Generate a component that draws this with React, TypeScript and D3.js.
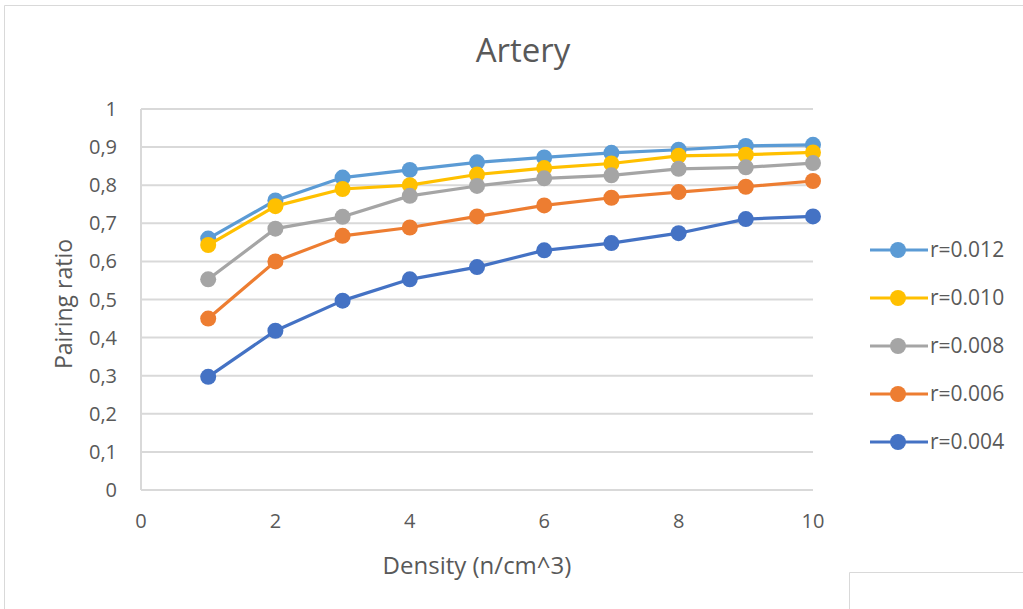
import React from "react";
import * as d3 from "d3";

const densities = [1, 2, 3, 4, 5, 6, 7, 8, 9, 10];
const seriesNames = ["r=0.012", "r=0.010", "r=0.008", "r=0.006", "r=0.004"];
const r012 = [0.66, 0.76, 0.82, 0.84, 0.86, 0.873, 0.885, 0.893, 0.903, 0.906];
const r010 = [0.643, 0.745, 0.79, 0.8, 0.828, 0.845, 0.857, 0.877, 0.88, 0.886];
const r008 = [0.553, 0.686, 0.717, 0.772, 0.798, 0.818, 0.826, 0.843, 0.847, 0.858];
const r006 = [0.45, 0.6, 0.667, 0.689, 0.718, 0.747, 0.767, 0.782, 0.796, 0.811];
const r004 = [0.297, 0.418, 0.497, 0.553, 0.585, 0.629, 0.648, 0.674, 0.711, 0.718];
const seriesValues = [r012, r010, r008, r006, r004];
const colors = ["#5B9BD5", "#FFC000", "#A5A5A5", "#ED7D31", "#4472C4"];
const yTicks = [0, 0.1, 0.2, 0.3, 0.4, 0.5, 0.6, 0.7, 0.8, 0.9, 1];
const xTicks = [0, 2, 4, 6, 8, 10];

const W = 1023;
const H = 609;
const FONT = "'Open Sans', sans-serif";

export default function App() {
  const x = d3.scaleLinear().domain([0, 10]).range([141, 813]);
  const y = d3.scaleLinear().domain([0, 1]).range([490, 109]);
  const line = d3
    .line<number>()
    .x((_, i) => x(densities[i]))
    .y((d) => y(d));
  const fmt = (v: number) => (v === 0 || v === 1 ? String(v) : v.toFixed(1).replace(".", ","));
  const legendY = [250, 298, 346, 394, 442];

  return (
    <svg
      width={W}
      height={H}
      style={{ position: "absolute", left: 0, top: 0, background: "#fff" }}
      fontFamily={FONT}
    >
      <rect x={0} y={0} width={W} height={H} fill="#fff" />
      <path d={`M4.5,${H} L4.5,5.5 L${W},5.5`} fill="none" stroke="#d9d9d9" strokeWidth={1} />
      <path d={`M849.5,${H} L849.5,572.5 L${W},572.5`} fill="none" stroke="#d9d9d9" strokeWidth={1} />

      <text x={523} y={62} textAnchor="middle" fontSize={33} fill="#595959">
        Artery
      </text>

      {yTicks.map((t) => (
        <line
          key={t}
          x1={x(0)}
          x2={x(10)}
          y1={y(t)}
          y2={y(t)}
          stroke="#d9d9d9"
          strokeWidth={2}
        />
      ))}
      <line x1={x(0)} x2={x(0)} y1={y(0)} y2={y(1)} stroke="#d9d9d9" strokeWidth={2} />

      {yTicks.map((t) => (
        <text
          key={t}
          x={117}
          y={y(t) + 7}
          textAnchor="end"
          fontSize={20}
          fill="#595959"
        >
          {fmt(t)}
        </text>
      ))}
      {xTicks.map((t) => (
        <text key={t} x={x(t)} y={528} textAnchor="middle" fontSize={20} fill="#595959">
          {t}
        </text>
      ))}

      <text x={477} y={574} textAnchor="middle" fontSize={24} fill="#595959">
        Density (n/cm^3)
      </text>
      <text
        transform={`translate(72,304) rotate(-90)`}
        textAnchor="middle"
        fontSize={23}
        fill="#595959"
      >
        Pairing ratio
      </text>

      {seriesValues.map((vals, si) => (
        <g key={si}>
          <path d={line(vals) || ""} fill="none" stroke={colors[si]} strokeWidth={3.2} strokeLinejoin="round" />
          {vals.map((v, i) => (
            <circle key={i} cx={x(densities[i])} cy={y(v)} r={8} fill={colors[si]} />
          ))}
        </g>
      ))}

      {seriesNames.map((n, si) => (
        <g key={n}>
          <line x1={870} x2={928} y1={legendY[si]} y2={legendY[si]} stroke={colors[si]} strokeWidth={3.2} />
          <circle cx={898} cy={legendY[si]} r={8} fill={colors[si]} />
          <text x={930} y={legendY[si] + 7} fontSize={21} fill="#595959">
            {n}
          </text>
        </g>
      ))}
    </svg>
  );
}
